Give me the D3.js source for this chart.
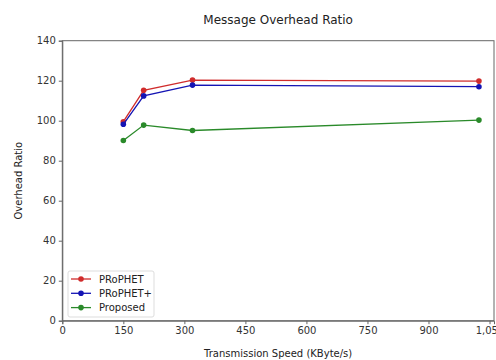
<!DOCTYPE html>
<html>
<head>
<meta charset="utf-8">
<script src="https://cdn.jsdelivr.net/npm/d3@7"></script>
<style>
  body { margin: 0; background: #fff; }
  svg { display: block; font-family: "DejaVu Sans", sans-serif; }
</style>
</head>
<body>
<svg id="chart"></svg>
<script>
const speeds = [150, 200, 320, 1024];
const prophet = [99.5, 115.2, 120.3, 119.8];
const prophetPlus = [98.2, 112.4, 117.8, 117.0];
const proposed = [90.1, 97.8, 95.1, 100.3];
const xTicks = [0, 150, 300, 450, 600, 750, 900, 1050];
const yTicks = [0, 20, 40, 60, 80, 100, 120, 140];

const series = [
	{ name: "PRoPHET", values: prophet, color: "#d02c2c" },
	{ name: "PRoPHET+", values: prophetPlus, color: "#1414b4" },
	{ name: "Proposed", values: proposed, color: "#2a8a2a" }
];

const w = 496, h = 360;
const m = { top: 40.7, right: 2, bottom: 39.3, left: 62.3 };

const svg = d3.select("#chart")
	.attr("width", w)
	.attr("height", h);

const x = d3.scaleLinear()
	.domain([0, 1061])
	.range([m.left, w - m.right]);

const y = d3.scaleLinear()
	.domain([0, 140])
	.range([h - m.bottom, m.top]);

// frame
svg.append("rect")
	.attr("x", m.left)
	.attr("y", m.top)
	.attr("width", w - m.right - m.left)
	.attr("height", h - m.bottom - m.top)
	.attr("fill", "none")
	.attr("stroke", "#666")
	.attr("stroke-width", 1);

const xAxis = svg.append("g")
	.attr("transform", `translate(0,${h - m.bottom})`)
	.call(d3.axisBottom(x).tickValues(xTicks).tickSize(3.5).tickPadding(3));

const yAxis = svg.append("g")
	.attr("transform", `translate(${m.left},0)`)
	.call(d3.axisLeft(y).tickValues(yTicks).tickSize(3.5).tickPadding(3));

[xAxis, yAxis].forEach(a => {
	a.select(".domain").attr("stroke", "#666");
	a.selectAll(".tick line").attr("stroke", "#666");
	a.selectAll(".tick text")
		.attr("fill", "#333")
		.attr("font-size", "10px")
		.attr("font-family", "DejaVu Sans, sans-serif");
});

// title & labels
svg.append("text")
	.text("Message Overhead Ratio")
	.attr("x", (m.left + w - m.right) / 2)
	.attr("y", 24)
	.attr("text-anchor", "middle")
	.attr("font-size", "12px")
	.attr("fill", "#222");

svg.append("text")
	.text("Transmission Speed (KByte/s)")
	.attr("x", (m.left + w - m.right) / 2)
	.attr("y", 357)
	.attr("text-anchor", "middle")
	.attr("font-size", "10px")
	.attr("fill", "#222");

svg.append("text")
	.text("Overhead Ratio")
	.attr("transform", `translate(22,${(m.top + h - m.bottom) / 2}) rotate(-90)`)
	.attr("text-anchor", "middle")
	.attr("font-size", "10px")
	.attr("fill", "#222");

const line = d3.line()
	.x(d => x(d[0]))
	.y(d => y(d[1]));

series.forEach(s => {
	const pts = speeds.map((v, i) => [v, s.values[i]]);
	svg.append("path")
		.attr("d", line(pts))
		.attr("fill", "none")
		.attr("stroke", s.color)
		.attr("stroke-width", 1.3);
	svg.append("g").selectAll("circle")
		.data(pts)
		.enter()
		.append("circle")
		.attr("cx", d => x(d[0]))
		.attr("cy", d => y(d[1]))
		.attr("r", 2.8)
		.attr("fill", s.color);
});

// legend
const lg = svg.append("g").attr("transform", "translate(68,271)");
lg.append("rect")
	.attr("width", 86)
	.attr("height", 46)
	.attr("rx", 2)
	.attr("fill", "#fff")
	.attr("fill-opacity", 0.8)
	.attr("stroke", "#ddd");

series.forEach((s, i) => {
	const yy = 8 + i * 14.3;
	lg.append("line")
		.attr("x1", 3).attr("x2", 23)
		.attr("y1", yy).attr("y2", yy)
		.attr("stroke", s.color)
		.attr("stroke-width", 1.3);
	lg.append("circle")
		.attr("cx", 13).attr("cy", yy)
		.attr("r", 2.8)
		.attr("fill", s.color);
	lg.append("text")
		.text(s.name)
		.attr("x", 31)
		.attr("y", yy)
		.attr("dy", "0.35em")
		.attr("font-size", "10px")
		.attr("fill", "#222");
});
</script>
</body>
</html>
